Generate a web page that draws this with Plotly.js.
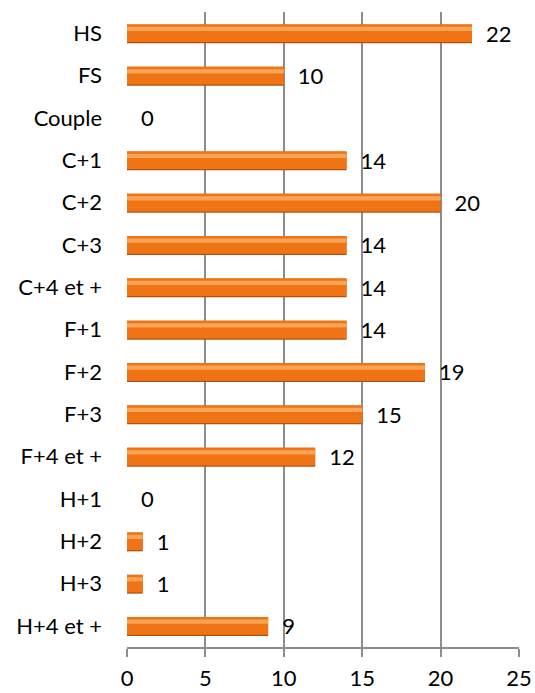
<!DOCTYPE html>
<html><head><meta charset="utf-8">
<script src="https://cdn.plot.ly/plotly-3.0.1.min.js"></script>
<style>html,body{margin:0;padding:0;background:#fff;}#chart{width:535px;height:693px;}</style>
</head><body><div id="chart"></div>
<script>
const categories = ["HS","FS","Couple","C+1","C+2","C+3","C+4 et +","F+1","F+2","F+3","F+4 et +","H+1","H+2","H+3","H+4 et +"];
const values = [22,10,0,14,20,14,14,14,19,15,12,0,1,1,9];
const xTicks = [0,5,10,15,20,25];

const font = {family: "Lato, 'Open Sans', sans-serif", size: 22, color: "#000"};

const shadow = {
  type: "bar", orientation: "h", y: categories, x: values,
  width: 0.44, offset: -0.2,
  marker: {color: "#B4500C", line: {width: 0}},
  hoverinfo: "skip"
};
const main = {
  type: "bar", orientation: "h", y: categories, x: values,
  width: 0.42, offset: -0.21,
  marker: {color: "#F07316", line: {width: 0}},
  text: values.map(v => "\u2002" + v), textposition: "outside", cliponaxis: false,
  constraintext: "none",
  textfont: font, hoverinfo: "skip"
};
const highlight = {
  type: "bar", orientation: "h", y: categories, x: values,
  width: 0.1, offset: -0.15,
  marker: {color: "#FAA456", line: {width: 0}},
  hoverinfo: "skip"
};

Plotly.newPlot("chart", [shadow, main, highlight], {
  width: 535, height: 693,
  margin: {l: 127, r: 16, t: 12, b: 46},
  barmode: "overlay",
  showlegend: false,
  paper_bgcolor: "#fff", plot_bgcolor: "#fff",
  font: font,
  xaxis: {
    range: [0, 25], tickvals: xTicks, ticktext: xTicks.map(String),
    showgrid: true, gridcolor: "#8c8c8c", gridwidth: 2,
    showline: true, linecolor: "#8c8c8c", linewidth: 2,
    ticks: "outside", ticklen: 8, tickcolor: "#8c8c8c", tickwidth: 2,
    ticklabelstandoff: 3,
    zeroline: false, tickfont: font, fixedrange: true
  },
  yaxis: {
    type: "category", categoryorder: "array", categoryarray: categories,
    autorange: "reversed", showgrid: false, zeroline: false,
    showline: false, ticks: "", ticklabelstandoff: 24,
    tickfont: font, fixedrange: true
  }
}, {staticPlot: true});
</script></body></html>
